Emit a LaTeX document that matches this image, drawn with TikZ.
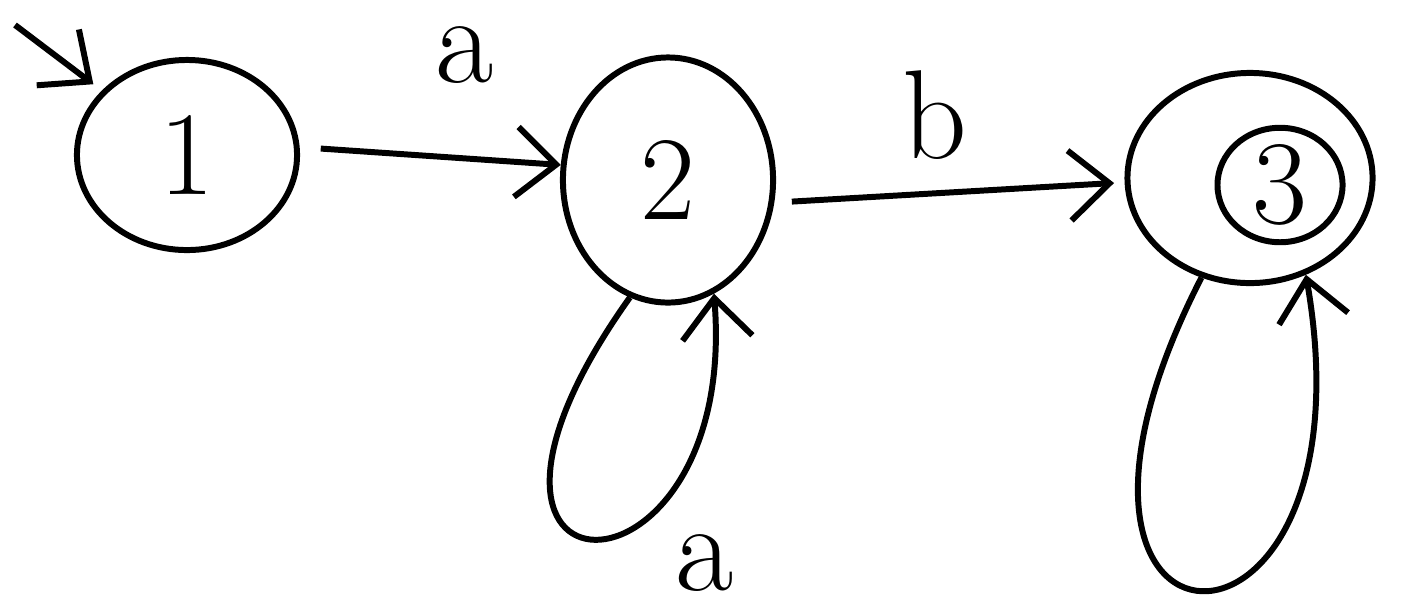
\documentclass[tikz,border=0pt]{standalone}
\usetikzlibrary{arrows.meta,shapes.geometric}
\begin{document}
\begin{tikzpicture}[x=0.01cm,y=-0.01cm,line width=1.7pt,
  state/.style={draw,ellipse,inner sep=0pt,font=\fontsize{34}{40}\selectfont},
  edge/.style={draw,-{Straight Barb[length=4mm,width=7mm,line width=1.7pt]}},
  lbl/.style={inner sep=0pt,font=\fontsize{36}{42}\selectfont}]
\useasboundingbox (0,0) rectangle (1410,596);
\node[state,minimum width=2.2cm,minimum height=1.9cm] (s1) at (187,155) {1};
\node[state,minimum width=2.1cm,minimum height=2.45cm] (s2) at (668,180) {2};
\node[state,minimum width=2.45cm,minimum height=2.1cm] (s3) at (1250,178) {};
\node[state,minimum width=1.25cm,minimum height=1.1cm] (s3i) at (1280,185) {3};
\coordinate (init) at (15,25);
\draw[edge,shorten >=3pt] (init) -- (s1);
\draw[edge,shorten <=6pt] (s1.4) -- (s2.172);
\draw[edge,shorten <=5pt,shorten >=3pt] (s2.-12) -- (s3.182);
\draw[edge] (s2.252) .. controls (400,620) and (740,620) .. (s2.292);
\draw[edge] (s3.244) .. controls (990,690) and (1380,700) .. (s3.300);
\node[lbl] (la) at (465,55) {a};
\node[lbl] (lb) at (935,115) {b};
\node[lbl] (lc) at (705,563) {a};
\end{tikzpicture}
\end{document}
